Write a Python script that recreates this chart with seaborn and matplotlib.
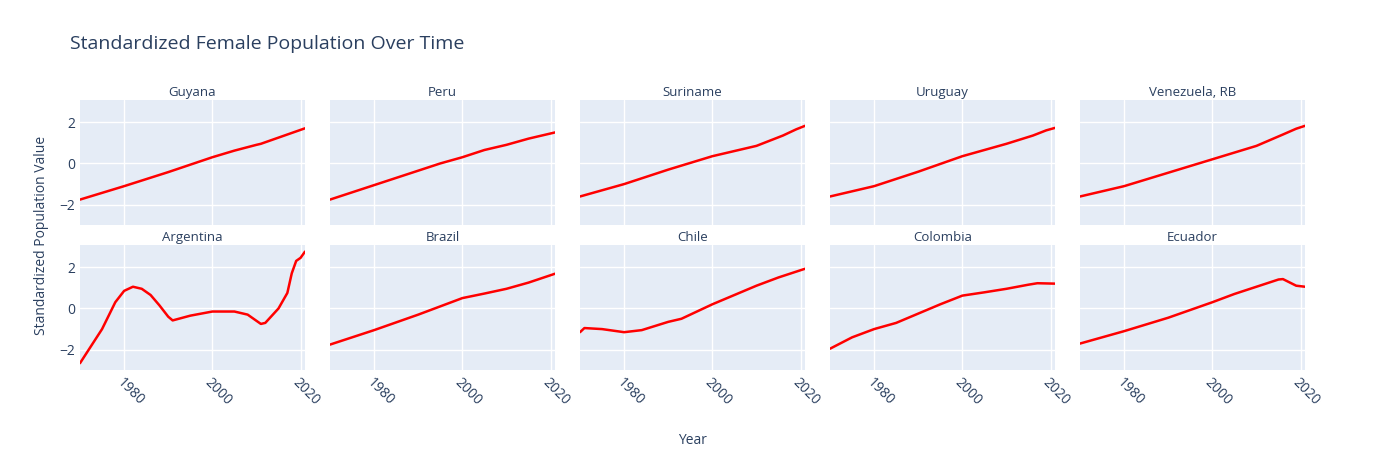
import pandas as pd
import matplotlib.pyplot as plt
import seaborn as sns

countries = ['Guyana', 'Peru', 'Suriname', 'Uruguay', 'Venezuela, RB',
             'Argentina', 'Brazil', 'Chile', 'Colombia', 'Ecuador']

# values (year, standardized value)
guyana_years = [1970, 1980, 1990, 2000, 2005, 2010, 2011, 2015, 2021]
guyana_vals = [-1.75, -1.1, -0.42, 0.3, 0.62, 0.9, 0.95, 1.25, 1.7]
peru_years = [1970, 1975, 1980, 1990, 1995, 2000, 2005, 2010, 2015, 2021]
peru_vals = [-1.75, -1.4, -1.05, -0.35, 0.0, 0.3, 0.65, 0.9, 1.2, 1.5]
suriname_years = [1970, 1980, 1985, 1990, 2000, 2010, 2016, 2019, 2021]
suriname_vals = [-1.6, -1.0, -0.65, -0.3, 0.35, 0.85, 1.35, 1.65, 1.82]
uruguay_years = [1970, 1980, 1990, 2000, 2005, 2010, 2016, 2019, 2021]
uruguay_vals = [-1.6, -1.1, -0.4, 0.35, 0.65, 0.95, 1.35, 1.6, 1.72]
venezuela_years = [1970, 1980, 1990, 2000, 2010, 2016, 2019, 2021]
venezuela_vals = [-1.6, -1.1, -0.45, 0.2, 0.85, 1.4, 1.68, 1.82]
argentina_years = [1970, 1975, 1978, 1980, 1982, 1984, 1986, 1988, 1990, 1991,
                   1995, 2000, 2005, 2008, 2011, 2012, 2015, 2017, 2018, 2019,
                   2020, 2021]
argentina_vals = [-2.65, -1.0, 0.3, 0.85, 1.05, 0.95, 0.65, 0.15, -0.4, -0.58,
                  -0.35, -0.15, -0.15, -0.3, -0.75, -0.7, 0.0, 0.75, 1.7, 2.3,
                  2.45, 2.75]
brazil_years = [1970, 1975, 1980, 1990, 2000, 2005, 2010, 2015, 2021]
brazil_vals = [-1.75, -1.4, -1.05, -0.3, 0.5, 0.72, 0.95, 1.25, 1.68]
chile_years = [1970, 1971, 1975, 1980, 1984, 1990, 1993, 2000, 2005, 2010, 2015, 2021]
chile_vals = [-1.15, -0.95, -1.0, -1.15, -1.05, -0.65, -0.5, 0.2, 0.65, 1.1, 1.5, 1.92]
colombia_years = [1970, 1975, 1980, 1985, 1990, 1995, 2000, 2005, 2010, 2015, 2017, 2021]
colombia_vals = [-1.95, -1.4, -1.0, -0.7, -0.25, 0.2, 0.62, 0.78, 0.95, 1.15, 1.22, 1.2]
ecuador_years = [1970, 1980, 1990, 2000, 2005, 2010, 2015, 2016, 2019, 2021]
ecuador_vals = [-1.7, -1.1, -0.45, 0.3, 0.7, 1.05, 1.4, 1.42, 1.1, 1.05]

series = [(guyana_years, guyana_vals), (peru_years, peru_vals),
          (suriname_years, suriname_vals), (uruguay_years, uruguay_vals),
          (venezuela_years, venezuela_vals), (argentina_years, argentina_vals),
          (brazil_years, brazil_vals), (chile_years, chile_vals),
          (colombia_years, colombia_vals), (ecuador_years, ecuador_vals)]

sns.set_style('white')
plt.rcParams['font.family'] = ['Open Sans', 'DejaVu Sans']
text_col = '#2a3f5f'

fig = plt.figure(figsize=(13.85, 4.5), dpi=100)
W, H = 1385, 450
col_x = [80, 330, 580, 830, 1080]
row_y = [100, 245]
pw, ph = 225, 125

for i, (name, (yrs, vals)) in enumerate(zip(countries, series)):
    r, c = divmod(i, 5)
    ax = fig.add_axes([col_x[c] / W, 1 - (row_y[r] + ph) / H, pw / W, ph / H])
    ax.set_facecolor('#E5ECF6')
    df = pd.DataFrame({'Year': yrs, 'Value': vals})
    sns.lineplot(data=df, x='Year', y='Value', ax=ax, color='red', lw=1.8)
    ax.set_xlim(1970, 2021)
    ax.set_ylim(-2.98, 3.07)
    ax.set_xticks([1980, 2000, 2020])
    ax.set_yticks([-2, 0, 2])
    ax.grid(True, color='white', lw=1)
    ax.set_axisbelow(True)
    for s in ax.spines.values():
        s.set_visible(False)
    ax.tick_params(length=0, labelsize=10, colors=text_col)
    ax.set_xlabel('')
    ax.set_ylabel('')
    ax.set_title(name, fontsize=9.5, color=text_col, pad=3)
    if r == 0:
        ax.set_xticklabels([])
    else:
        for lab in ax.get_xticklabels():
            lab.set_rotation(-45)
            lab.set_ha('left')
            lab.set_rotation_mode('anchor')
    if c != 0:
        ax.set_yticklabels([])

fig.text(70 / W, 1 - 44 / H, 'Standardized Female Population Over Time',
         fontsize=14, color=text_col, va='center')
fig.text(692 / W, 1 - 441 / H, 'Year', fontsize=10, color=text_col, ha='center', va='center')
fig.text(42 / W, 1 - 235 / H, 'Standardized Population Value', fontsize=10,
         color=text_col, rotation=90, ha='center', va='center')

fig.savefig('out.png', dpi=100)
